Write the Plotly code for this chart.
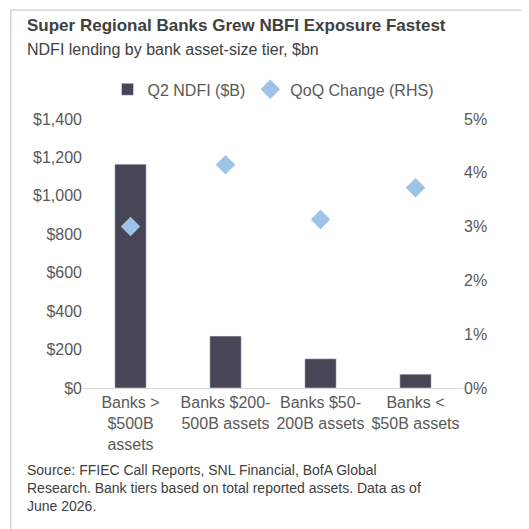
import plotly.graph_objects as go

categories = ["Banks ><br>$500B<br>assets", "Banks $200-<br>500B assets", "Banks $50-<br>200B assets", "Banks <<br>$50B assets"]
ndfi = [1165, 270, 152, 72]
qoq = [3.0, 4.15, 3.13, 3.72]

fig = go.Figure()
fig.add_trace(go.Bar(x=categories, y=ndfi, name="Q2 NDFI ($B)", marker_color="#474556", width=0.33))
fig.add_trace(go.Scatter(x=categories, y=qoq, name="QoQ Change (RHS)", mode="markers",
                         marker=dict(symbol="diamond", size=15, color="#9DC3E6"), yaxis="y2"))
font = dict(family="Liberation Sans, Arial", color="#595959", size=16)
fig.update_layout(
    width=529, height=529, paper_bgcolor="white", plot_bgcolor="white",
    margin=dict(l=75, r=74, t=111, b=149), font=font, bargap=0.5,
    showlegend=True,
    legend=dict(orientation="h", x=0.5, xanchor="center", y=1.11, yanchor="middle", font=font),
    yaxis=dict(range=[0, 1400], dtick=200, tickprefix="$", tickformat=",", showgrid=False,
               zeroline=False, ticks="", tickfont=font, automargin=False),
    yaxis2=dict(range=[0, 5], dtick=1, ticksuffix="%", overlaying="y", side="right",
                showgrid=False, zeroline=False, tickfont=font, automargin=False),
    xaxis=dict(showline=True, linecolor="#d9d9d9", linewidth=1, tickfont=font, automargin=False),
    shapes=[dict(type="rect", xref="paper", yref="paper", x0=-0.19, x1=1.184, y0=-0.539, y1=1.405,
                 line=dict(color="#bfbfbf", width=1))],
    annotations=[
        dict(text="<b>Super Regional Banks Grew NBFI Exposure Fastest</b>", xref="paper", yref="paper",
             x=-0.152, y=1.346, xanchor="left", yanchor="middle", showarrow=False,
             font=dict(family="Liberation Sans, Arial", size=17, color="#404040")),
        dict(text="NDFI lending by bank asset-size tier, $bn", xref="paper", yref="paper",
             x=-0.152, y=1.257, xanchor="left", yanchor="middle", showarrow=False,
             font=dict(family="Liberation Sans, Arial", size=16, color="#404040")),
        dict(text="Source: FFIEC Call Reports, SNL Financial, BofA Global<br>Research. Bank tiers based on total reported assets. Data as of<br>June 2026.",
             xref="paper", yref="paper", x=-0.152, y=-0.268, xanchor="left", yanchor="top",
             showarrow=False, align="left",
             font=dict(family="Liberation Sans, Arial", size=14, color="#404040")),
    ],
)
fig.write_html("out.html")
